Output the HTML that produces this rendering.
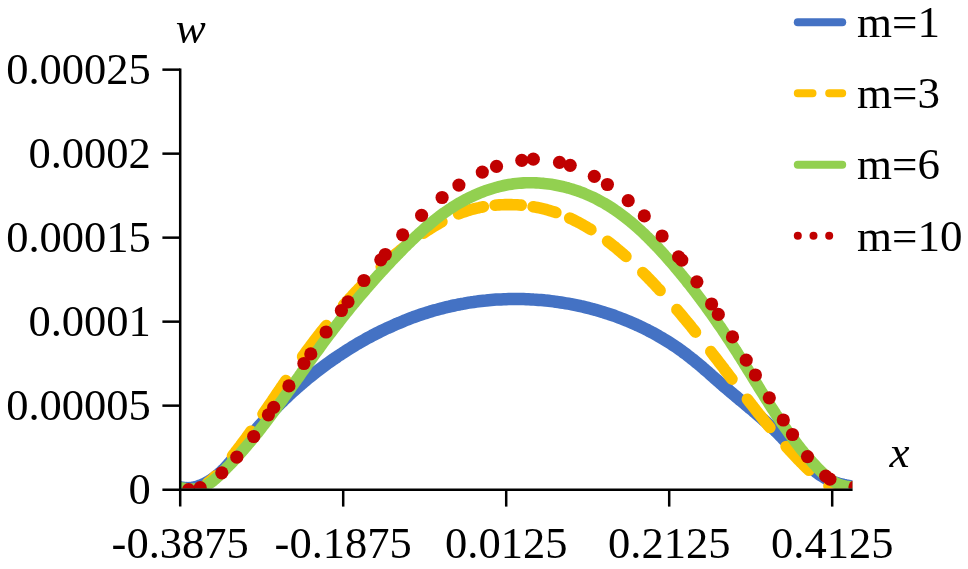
<!DOCTYPE html>
<html><head><meta charset="utf-8"><title>chart</title>
<style>html,body{margin:0;padding:0;background:#fff;}body{width:968px;height:569px;position:relative;overflow:hidden;font-family:"Liberation Serif",serif;}</style>
</head><body>
<svg width="968" height="569" viewBox="0 0 968 569" style="position:absolute;left:0;top:0">
<defs><clipPath id="pa"><rect x="180.0" y="0" width="672.4" height="488.6"/></clipPath></defs>
<g clip-path="url(#pa)" fill="none" stroke-linecap="round" stroke-linejoin="round">
<path d="M173.0,486.0 L175.5,486.3 L177.9,486.8 L180.4,487.3 L182.9,487.8 L185.3,488.1 L187.8,488.3 L190.3,488.1 L192.8,487.8 L195.3,487.2 L197.7,486.5 L200.0,485.7 L202.3,484.7 L204.6,483.7 L206.8,482.5 L209.0,481.3 L211.1,479.9 L213.2,478.5 L215.2,477.0 L217.1,475.5 L219.0,473.8 L220.9,472.2 L222.7,470.4 L224.5,468.7 L226.2,466.8 L227.9,465.0 L229.5,463.1 L231.2,461.2 L232.8,459.3 L234.3,457.3 L235.9,455.4 L237.4,453.4 L239.0,451.4 L240.5,449.4 L242.0,447.5 L243.6,445.5 L245.1,443.5 L246.6,441.5 L248.2,439.5 L249.7,437.6 L251.3,435.6 L252.9,433.7 L254.5,431.8 L256.1,429.8 L257.7,427.9 L259.3,426.0 L261.0,424.1 L262.6,422.3 L264.3,420.4 L266.0,418.5 L267.7,416.7 L269.4,414.9 L271.1,413.0 L272.8,411.2 L274.5,409.4 L276.3,407.6 L278.0,405.8 L279.8,404.0 L281.6,402.3 L283.4,400.5 L285.2,398.8 L287.0,397.1 L288.8,395.3 L290.6,393.6 L292.5,391.9 L294.3,390.3 L296.2,388.6 L298.1,386.9 L300.0,385.3 L301.9,383.6 L303.8,382.0 L305.7,380.4 L307.6,378.8 L309.5,377.2 L311.5,375.7 L313.4,374.1 L315.4,372.5 L317.4,371.0 L319.4,369.5 L321.4,368.0 L323.4,366.5 L325.4,365.0 L327.4,363.5 L329.4,362.1 L331.5,360.6 L333.5,359.2 L335.6,357.8 L337.7,356.3 L339.8,355.0 L341.9,353.6 L344.0,352.2 L346.1,350.9 L348.2,349.5 L350.3,348.2 L352.4,346.9 L354.6,345.6 L356.7,344.3 L358.9,343.0 L361.1,341.8 L363.2,340.6 L365.4,339.3 L367.6,338.1 L369.8,336.9 L372.0,335.7 L374.2,334.6 L376.5,333.4 L378.7,332.3 L380.9,331.2 L383.2,330.1 L385.4,329.0 L387.7,327.9 L390.0,326.9 L392.3,325.9 L394.6,324.8 L396.8,323.8 L399.2,322.9 L401.5,321.9 L403.8,320.9 L406.1,320.0 L408.4,319.1 L410.8,318.2 L413.1,317.3 L415.5,316.5 L417.8,315.6 L420.2,314.8 L422.6,314.0 L425.0,313.3 L427.3,312.5 L429.7,311.8 L432.1,311.0 L434.5,310.3 L436.9,309.7 L439.4,309.0 L441.8,308.4 L444.2,307.7 L446.6,307.1 L449.1,306.6 L451.5,306.0 L454.0,305.5 L456.4,305.0 L458.9,304.5 L461.3,304.0 L463.8,303.6 L466.3,303.1 L468.7,302.7 L471.2,302.3 L473.7,302.0 L476.2,301.6 L478.6,301.3 L481.1,301.0 L483.6,300.7 L486.1,300.5 L488.6,300.2 L491.1,300.0 L493.6,299.8 L496.1,299.6 L498.6,299.5 L501.1,299.4 L503.6,299.3 L506.1,299.2 L508.6,299.1 L511.1,299.0 L513.6,299.0 L516.1,299.0 L518.6,299.0 L521.1,299.1 L523.6,299.1 L526.1,299.2 L528.6,299.3 L531.1,299.4 L533.6,299.6 L536.1,299.7 L538.6,299.9 L541.1,300.1 L543.6,300.3 L546.1,300.6 L548.6,300.8 L551.1,301.1 L553.6,301.4 L556.0,301.8 L558.5,302.1 L561.0,302.5 L563.5,302.9 L565.9,303.3 L568.4,303.7 L570.9,304.1 L573.3,304.6 L575.8,305.1 L578.2,305.6 L580.7,306.2 L583.1,306.7 L585.6,307.3 L588.0,307.9 L590.4,308.5 L592.8,309.2 L595.3,309.8 L597.7,310.5 L600.1,311.2 L602.5,311.9 L604.9,312.7 L607.2,313.4 L609.6,314.2 L612.0,315.0 L614.4,315.8 L616.7,316.7 L619.1,317.6 L621.4,318.5 L623.7,319.4 L626.1,320.3 L628.4,321.2 L630.7,322.2 L633.0,323.2 L635.3,324.2 L637.5,325.3 L639.8,326.3 L642.1,327.4 L644.3,328.5 L646.6,329.6 L648.8,330.8 L651.0,331.9 L653.2,333.1 L655.4,334.3 L657.6,335.5 L659.8,336.8 L661.9,338.0 L664.1,339.3 L666.2,340.6 L668.3,341.9 L670.5,343.3 L672.6,344.7 L674.6,346.0 L676.7,347.4 L678.8,348.9 L680.8,350.3 L682.8,351.8 L684.9,353.3 L686.9,354.8 L688.8,356.3 L690.8,357.9 L692.8,359.4 L694.7,361.0 L696.6,362.6 L698.6,364.2 L700.5,365.8 L702.4,367.4 L704.3,369.1 L706.2,370.7 L708.1,372.3 L709.9,374.0 L711.8,375.7 L713.7,377.3 L715.6,379.0 L717.5,380.6 L719.3,382.3 L721.2,383.9 L723.1,385.6 L725.0,387.2 L726.9,388.8 L728.8,390.4 L730.7,392.1 L732.7,393.7 L734.6,395.3 L736.5,396.9 L738.4,398.5 L740.3,400.1 L742.3,401.7 L744.2,403.3 L746.1,404.9 L748.0,406.5 L749.9,408.1 L751.9,409.7 L753.8,411.4 L755.7,413.0 L757.6,414.6 L759.5,416.3 L761.3,417.9 L763.2,419.6 L765.1,421.2 L766.9,422.9 L768.8,424.6 L770.6,426.3 L772.5,428.0 L774.3,429.7 L776.1,431.5 L777.9,433.2 L779.6,435.0 L781.4,436.8 L783.1,438.6 L784.8,440.4 L786.5,442.3 L788.2,444.1 L789.9,446.0 L791.6,447.8 L793.3,449.7 L795.0,451.5 L796.7,453.4 L798.4,455.2 L800.1,457.0 L801.8,458.8 L803.5,460.6 L805.3,462.4 L807.1,464.1 L808.9,465.9 L810.8,467.5 L812.7,469.2 L814.6,470.7 L816.6,472.3 L818.6,473.8 L820.7,475.2 L822.8,476.5 L825.0,477.8 L827.1,479.0 L829.4,480.1 L831.7,481.2 L834.0,482.1 L836.4,482.9 L838.8,483.7 L841.2,484.3 L843.6,484.9 L846.1,485.4 L848.5,485.8 L851.0,486.3 L853.5,486.7 L855.9,487.2 L858.4,487.7 L860.8,488.2" stroke="#4472C4" stroke-width="12.5"/>
<path d="M207.6,483.0 L209.3,481.8 L210.9,480.4 L212.5,479.0 L214.0,477.5 L215.4,476.0" stroke="#FFC000" stroke-width="11.6"/>
<path d="M232.5,455.8 L233.8,454.2 L235.1,452.6 L236.3,450.9 L237.6,449.3 L238.8,447.7 L240.1,446.1 L241.3,444.4 L242.5,442.8 L243.7,441.2 L245.0,439.5 L246.2,437.9 L247.4,436.2 L248.6,434.6 L249.8,432.9 L251.0,431.2" stroke="#FFC000" stroke-width="11.6"/>
<path d="M263.0,414.1 L264.2,412.4 L265.3,410.7 L266.5,409.1 L267.6,407.4 L268.8,405.7 L269.9,404.0 L271.1,402.3 L272.2,400.7 L273.3,399.0 L274.5,397.3 L275.6,395.6 L276.8,393.9 L277.9,392.2 L279.1,390.6 L280.2,388.9 L281.3,387.2 L282.5,385.5 L283.6,383.8 L284.8,382.2 L285.9,380.5" stroke="#FFC000" stroke-width="11.6"/>
<path d="M302.6,356.6 L303.8,355.0 L305.0,353.3 L306.2,351.6 L307.4,350.0 L308.7,348.3 L309.9,346.7 L311.1,345.0 L312.3,343.4 L313.6,341.7 L314.8,340.1 L316.1,338.5 L317.3,336.8 L318.6,335.2 L319.9,333.6 L321.1,332.0 L322.4,330.4 L323.7,328.8 L325.0,327.2 L326.3,325.6" stroke="#FFC000" stroke-width="11.6"/>
<path d="M343.5,305.3 L344.9,303.8 L346.3,302.2 L347.7,300.6 L349.1,299.1 L350.5,297.5 L352.0,296.0 L353.4,294.4 L354.8,292.9 L356.3,291.4 L357.7,289.9 L359.2,288.3 L360.7,286.8 L362.1,285.3" stroke="#FFC000" stroke-width="11.6"/>
<path d="M381.2,266.8 L382.8,265.4 L384.4,264.0 L385.9,262.6 L387.5,261.2 L389.1,259.7 L390.7,258.3 L392.3,257.0 L394.0,255.6 L395.6,254.2 L397.2,252.8 L398.9,251.5 L400.5,250.1 L402.2,248.8 L403.8,247.5" stroke="#FFC000" stroke-width="11.6"/>
<path d="M423.4,233.1 L425.2,231.9 L427.0,230.7 L428.9,229.5 L430.7,228.4 L432.5,227.2 L434.4,226.1 L436.2,225.0 L438.1,223.9 L440.0,222.8 L441.9,221.7" stroke="#FFC000" stroke-width="11.6"/>
<path d="M458.6,213.9 L460.6,213.1 L462.6,212.4 L464.6,211.7 L466.7,211.0 L468.7,210.3 L470.8,209.7 L472.9,209.2 L475.0,208.6 L477.0,208.1 L479.1,207.7 L481.3,207.2 L483.4,206.8" stroke="#FFC000" stroke-width="11.6"/>
<path d="M495.1,205.2 L497.1,205.0 L499.1,204.9 L501.1,204.8 L503.1,204.7 L505.1,204.6 L507.1,204.6 L509.1,204.6 L511.2,204.6 L513.2,204.7 L515.2,204.7 L517.2,204.8 L519.2,205.0 L521.2,205.1" stroke="#FFC000" stroke-width="11.6"/>
<path d="M533.1,206.7 L535.2,207.1 L537.3,207.5 L539.4,207.9 L541.5,208.4 L543.6,208.9 L545.7,209.4 L547.7,210.0 L549.8,210.6 L551.8,211.2 L553.9,211.8 L555.9,212.5" stroke="#FFC000" stroke-width="11.6"/>
<path d="M569.7,218.1 L571.5,218.9 L573.3,219.8 L575.1,220.7 L576.9,221.6 L578.7,222.5 L580.5,223.5 L582.3,224.5 L584.0,225.5 L585.8,226.5 L587.5,227.5 L589.2,228.6 L590.9,229.6" stroke="#FFC000" stroke-width="11.6"/>
<path d="M607.6,241.3 L609.3,242.6 L611.0,243.9 L612.7,245.3 L614.4,246.6 L616.1,248.0 L617.7,249.4 L619.4,250.8 L621.0,252.2 L622.6,253.6 L624.3,255.0 L625.9,256.4" stroke="#FFC000" stroke-width="11.6"/>
<path d="M642.8,272.5 L644.3,274.0 L645.7,275.4 L647.2,276.9 L648.6,278.4 L650.1,279.9 L651.5,281.4 L653.0,282.9 L654.4,284.4 L655.8,285.9 L657.2,287.5 L658.7,289.0 L660.1,290.5" stroke="#FFC000" stroke-width="11.6"/>
<path d="M676.9,309.6 L678.3,311.2 L679.6,312.8 L681.0,314.4 L682.3,316.0 L683.6,317.6 L685.0,319.2 L686.3,320.8 L687.6,322.4 L689.0,324.0 L690.3,325.6 L691.6,327.3 L692.9,328.9 L694.2,330.5 L695.5,332.1" stroke="#FFC000" stroke-width="11.6"/>
<path d="M710.8,351.5 L712.0,353.2 L713.3,354.8 L714.5,356.4 L715.8,358.0 L717.0,359.6 L718.3,361.3 L719.5,362.9 L720.8,364.5 L722.0,366.1 L723.3,367.7 L724.5,369.4 L725.7,371.0 L727.0,372.6 L728.2,374.2 L729.5,375.9 L730.7,377.5 L731.9,379.1" stroke="#FFC000" stroke-width="11.6"/>
<path d="M747.4,399.2 L748.6,400.8 L749.8,402.4 L751.1,404.0 L752.3,405.5 L753.5,407.1 L754.8,408.7 L756.0,410.3 L757.3,411.9 L758.5,413.5 L759.8,415.0 L761.0,416.6 L762.3,418.2 L763.5,419.7 L764.8,421.3 L766.1,422.9 L767.3,424.4 L768.6,426.0 L769.9,427.5" stroke="#FFC000" stroke-width="11.6"/>
<path d="M786.1,446.5 L787.5,448.0 L788.9,449.5 L790.3,451.1 L791.7,452.6 L793.1,454.1 L794.5,455.6 L795.9,457.1 L797.3,458.6 L798.8,460.1 L800.2,461.5 L801.6,463.0 L803.1,464.5 L804.6,465.9 L806.0,467.3 L807.5,468.8 L809.0,470.2" stroke="#FFC000" stroke-width="11.6"/>
<path d="M829.0,486.0 L830.8,486.9 L832.6,487.9 L834.4,488.7 L836.3,489.5 L838.1,490.3 L840.1,491.0" stroke="#FFC000" stroke-width="11.6"/>
<path d="M173.0,486.5 L175.5,486.8 L178.0,487.2 L180.5,487.7 L182.9,488.1 L185.4,488.5 L187.9,488.8 L190.4,489.1 L192.9,489.1 L195.4,489.0 L197.9,488.6 L200.3,488.0 L202.6,487.1 L204.9,486.1 L207.1,484.9 L209.3,483.6 L211.3,482.2 L213.3,480.6 L215.2,479.0 L217.1,477.4 L218.9,475.7 L220.7,473.9 L222.5,472.2 L224.3,470.4 L226.1,468.6 L227.8,466.8 L229.6,465.0 L231.3,463.2 L233.0,461.4 L234.7,459.6 L236.4,457.7 L238.1,455.8 L239.7,454.0 L241.4,452.1 L243.1,450.2 L244.7,448.3 L246.3,446.4 L247.9,444.5 L249.6,442.6 L251.2,440.7 L252.8,438.7 L254.3,436.8 L255.9,434.8 L257.5,432.9 L259.0,430.9 L260.6,429.0 L262.1,427.0 L263.7,425.0 L265.2,423.0 L266.7,421.0 L268.2,419.0 L269.7,417.0 L271.2,415.0 L272.7,413.0 L274.2,411.0 L275.7,409.0 L277.2,407.0 L278.7,404.9 L280.1,402.9 L281.6,400.9 L283.1,398.9 L284.5,396.8 L286.0,394.8 L287.5,392.7 L288.9,390.7 L290.4,388.7 L291.8,386.6 L293.3,384.6 L294.7,382.5 L296.2,380.5 L297.6,378.4 L299.1,376.4 L300.5,374.4 L301.9,372.3 L303.4,370.3 L304.8,368.2 L306.3,366.2 L307.7,364.1 L309.2,362.1 L310.7,360.1 L312.1,358.0 L313.6,356.0 L315.0,354.0 L316.5,351.9 L318.0,349.9 L319.5,347.9 L320.9,345.9 L322.4,343.8 L323.9,341.8 L325.4,339.8 L326.9,337.8 L328.4,335.8 L329.9,333.8 L331.5,331.8 L333.0,329.8 L334.5,327.8 L336.0,325.9 L337.6,323.9 L339.1,321.9 L340.7,319.9 L342.2,318.0 L343.8,316.0 L345.3,314.0 L346.9,312.1 L348.5,310.1 L350.0,308.2 L351.6,306.2 L353.2,304.3 L354.8,302.4 L356.4,300.4 L358.0,298.5 L359.6,296.6 L361.2,294.7 L362.9,292.8 L364.5,290.9 L366.1,289.0 L367.8,287.1 L369.4,285.2 L371.1,283.3 L372.7,281.4 L374.4,279.6 L376.0,277.7 L377.7,275.8 L379.4,274.0 L381.1,272.1 L382.8,270.3 L384.5,268.4 L386.2,266.6 L387.9,264.7 L389.6,262.9 L391.3,261.1 L393.0,259.3 L394.8,257.5 L396.5,255.7 L398.3,253.9 L400.0,252.1 L401.8,250.3 L403.5,248.5 L405.3,246.7 L407.1,245.0 L408.9,243.2 L410.7,241.5 L412.5,239.7 L414.3,238.0 L416.1,236.3 L417.9,234.6 L419.8,232.9 L421.6,231.2 L423.5,229.5 L425.4,227.8 L427.2,226.2 L429.2,224.6 L431.1,223.0 L433.0,221.4 L435.0,219.8 L436.9,218.3 L438.9,216.7 L440.9,215.2 L442.9,213.7 L445.0,212.3 L447.0,210.9 L449.1,209.4 L451.2,208.1 L453.3,206.7 L455.4,205.4 L457.6,204.1 L459.7,202.8 L461.9,201.6 L464.1,200.4 L466.3,199.2 L468.6,198.1 L470.8,197.0 L473.1,195.9 L475.4,194.9 L477.7,193.9 L480.0,192.9 L482.3,192.0 L484.6,191.1 L487.0,190.3 L489.4,189.5 L491.8,188.7 L494.2,188.0 L496.6,187.3 L499.0,186.7 L501.4,186.1 L503.9,185.5 L506.3,185.0 L508.8,184.6 L511.3,184.2 L513.7,183.8 L516.2,183.5 L518.7,183.3 L521.2,183.1 L523.7,182.9 L526.2,182.8 L528.7,182.7 L531.2,182.7 L533.7,182.8 L536.2,182.9 L538.7,183.0 L541.2,183.2 L543.7,183.4 L546.2,183.7 L548.7,184.0 L551.2,184.3 L553.7,184.7 L556.1,185.2 L558.6,185.7 L561.0,186.2 L563.5,186.7 L565.9,187.4 L568.3,188.0 L570.7,188.7 L573.1,189.4 L575.5,190.2 L577.9,191.0 L580.2,191.9 L582.6,192.8 L584.9,193.7 L587.2,194.7 L589.5,195.7 L591.8,196.7 L594.1,197.8 L596.3,198.9 L598.5,200.1 L600.7,201.3 L602.9,202.5 L605.1,203.7 L607.2,205.0 L609.4,206.3 L611.5,207.7 L613.6,209.1 L615.6,210.5 L617.7,211.9 L619.7,213.4 L621.7,214.9 L623.7,216.4 L625.7,217.9 L627.7,219.5 L629.6,221.0 L631.6,222.6 L633.5,224.3 L635.4,225.9 L637.2,227.5 L639.1,229.2 L641.0,230.9 L642.8,232.6 L644.6,234.3 L646.4,236.1 L648.2,237.8 L650.0,239.6 L651.7,241.4 L653.5,243.2 L655.2,245.0 L657.0,246.8 L658.7,248.6 L660.4,250.5 L662.1,252.3 L663.8,254.2 L665.4,256.0 L667.1,257.9 L668.8,259.8 L670.4,261.7 L672.0,263.5 L673.7,265.4 L675.3,267.4 L676.9,269.3 L678.5,271.2 L680.1,273.1 L681.7,275.1 L683.3,277.0 L684.9,278.9 L686.5,280.9 L688.0,282.9 L689.6,284.8 L691.1,286.8 L692.7,288.8 L694.2,290.8 L695.7,292.7 L697.2,294.7 L698.7,296.7 L700.2,298.7 L701.7,300.8 L703.2,302.8 L704.7,304.8 L706.2,306.8 L707.6,308.8 L709.1,310.9 L710.6,312.9 L712.0,315.0 L713.4,317.0 L714.9,319.1 L716.3,321.1 L717.7,323.2 L719.1,325.3 L720.6,327.3 L722.0,329.4 L723.4,331.5 L724.8,333.6 L726.1,335.6 L727.5,337.7 L728.9,339.8 L730.3,341.9 L731.6,344.0 L733.0,346.1 L734.4,348.2 L735.7,350.3 L737.1,352.4 L738.4,354.6 L739.8,356.7 L741.1,358.8 L742.4,360.9 L743.8,363.0 L745.1,365.2 L746.4,367.3 L747.7,369.4 L749.0,371.5 L750.4,373.7 L751.7,375.8 L753.0,377.9 L754.3,380.1 L755.6,382.2 L757.0,384.3 L758.3,386.5 L759.6,388.6 L760.9,390.7 L762.2,392.8 L763.6,395.0 L764.9,397.1 L766.2,399.2 L767.6,401.3 L768.9,403.4 L770.3,405.6 L771.6,407.7 L773.0,409.8 L774.4,411.9 L775.7,414.0 L777.1,416.0 L778.5,418.1 L779.9,420.2 L781.3,422.3 L782.7,424.3 L784.2,426.4 L785.6,428.4 L787.1,430.5 L788.5,432.5 L790.0,434.6 L791.5,436.6 L793.0,438.6 L794.5,440.6 L796.0,442.6 L797.5,444.6 L799.1,446.5 L800.6,448.5 L802.2,450.4 L803.8,452.4 L805.4,454.3 L807.0,456.2 L808.7,458.1 L810.3,460.0 L812.0,461.9 L813.7,463.7 L815.4,465.5 L817.1,467.4 L818.8,469.2 L820.6,471.0 L822.4,472.7 L824.2,474.4 L826.1,476.1 L828.0,477.7 L830.0,479.2 L832.0,480.6 L834.2,482.0 L836.4,483.1 L838.7,484.2 L841.0,485.0 L843.4,485.7 L845.9,486.2 L848.4,486.6 L850.8,486.9 L853.3,487.2 L855.8,487.4 L858.3,487.7 L860.8,488.0" stroke="#92D050" stroke-width="11.6"/>
<g fill="#C00000" stroke="none">
<circle cx="188.6" cy="489.6" r="6.6"/>
<circle cx="200.2" cy="487.7" r="6.6"/>
<circle cx="221.8" cy="472.8" r="6.6"/>
<circle cx="236.8" cy="457.2" r="6.6"/>
<circle cx="253.7" cy="436.5" r="6.6"/>
<circle cx="268.4" cy="414.8" r="6.6"/>
<circle cx="273.7" cy="407.4" r="6.6"/>
<circle cx="288.9" cy="385.9" r="6.6"/>
<circle cx="303.9" cy="363.5" r="6.6"/>
<circle cx="310.8" cy="353.9" r="6.6"/>
<circle cx="326.1" cy="332.0" r="6.6"/>
<circle cx="341.4" cy="310.5" r="6.6"/>
<circle cx="348.0" cy="301.8" r="6.6"/>
<circle cx="363.9" cy="280.5" r="6.6"/>
<circle cx="380.8" cy="259.8" r="6.6"/>
<circle cx="385.3" cy="254.5" r="6.6"/>
<circle cx="402.7" cy="234.8" r="6.6"/>
<circle cx="421.6" cy="215.3" r="6.6"/>
<circle cx="442.1" cy="197.5" r="6.6"/>
<circle cx="458.9" cy="185.1" r="6.6"/>
<circle cx="482.3" cy="172.1" r="6.6"/>
<circle cx="496.5" cy="166.4" r="6.6"/>
<circle cx="521.8" cy="160.4" r="6.6"/>
<circle cx="533.3" cy="159.2" r="6.6"/>
<circle cx="559.5" cy="162.4" r="6.6"/>
<circle cx="570.2" cy="165.3" r="6.6"/>
<circle cx="594.3" cy="176.3" r="6.6"/>
<circle cx="607.4" cy="184.5" r="6.6"/>
<circle cx="628.2" cy="200.7" r="6.6"/>
<circle cx="644.3" cy="215.9" r="6.6"/>
<circle cx="662.1" cy="236.0" r="6.6"/>
<circle cx="678.6" cy="256.9" r="6.6"/>
<circle cx="681.8" cy="260.1" r="6.6"/>
<circle cx="696.9" cy="281.8" r="6.6"/>
<circle cx="711.6" cy="304.0" r="6.6"/>
<circle cx="718.3" cy="314.4" r="6.6"/>
<circle cx="732.5" cy="336.9" r="6.6"/>
<circle cx="746.2" cy="360.1" r="6.6"/>
<circle cx="755.4" cy="375.0" r="6.6"/>
<circle cx="769.3" cy="397.8" r="6.6"/>
<circle cx="783.3" cy="420.0" r="6.6"/>
<circle cx="792.5" cy="434.5" r="6.6"/>
<circle cx="807.5" cy="456.6" r="6.6"/>
<circle cx="825.7" cy="476.2" r="6.6"/>
<circle cx="829.9" cy="479.2" r="6.6"/>
<circle cx="855.0" cy="486.9" r="6.6"/>
</g></g>
<g stroke="#000" stroke-width="2.5" fill="none">
<path d="M180.2,68.4 V506.6"/>
<path d="M162.4,489.65 H852.6"/>
<path d="M162.4,405.65 H180.2"/>
<path d="M162.4,321.65 H180.2"/>
<path d="M162.4,237.65 H180.2"/>
<path d="M162.4,153.65 H180.2"/>
<path d="M162.4,69.65 H180.2"/>
<path d="M343.2,489.65 V506.6"/>
<path d="M506.2,489.65 V506.6"/>
<path d="M669.2,489.65 V506.6"/>
<path d="M832.2,489.65 V506.6"/>
</g>
<g fill="none" stroke-linecap="round" stroke-width="8">
<path d="M797.8,22.2 H842.2" stroke="#4472C4"/>
<path d="M797.8,93.2 H812.5 M829.2,93.2 H842.2" stroke="#FFC000"/>
<path d="M797.8,164.8 H842.2" stroke="#92D050"/>
</g>
<g fill="#C00000"><circle cx="797.8" cy="235.8" r="4"/><circle cx="813.5" cy="235.8" r="4"/><circle cx="829.2" cy="235.8" r="4"/></g>
<g font-family="'Liberation Serif', serif" font-size="44.5" fill="#000">
<text x="150.8" y="503.8" text-anchor="end">0</text>
<text x="150.8" y="419.8" text-anchor="end">0.00005</text>
<text x="150.8" y="335.8" text-anchor="end">0.0001</text>
<text x="150.8" y="251.7" text-anchor="end">0.00015</text>
<text x="150.8" y="167.7" text-anchor="end">0.0002</text>
<text x="150.8" y="83.7" text-anchor="end">0.00025</text>
<text x="180.2" y="558.3" text-anchor="middle">-0.3875</text>
<text x="343.2" y="558.3" text-anchor="middle">-0.1875</text>
<text x="506.2" y="558.3" text-anchor="middle">0.0125</text>
<text x="669.2" y="558.3" text-anchor="middle">0.2125</text>
<text x="832.2" y="558.3" text-anchor="middle">0.4125</text>
<text x="857" y="36.7" font-size="45">m=1</text>
<text x="857" y="108.0" font-size="45">m=3</text>
<text x="857" y="179.3" font-size="45">m=6</text>
<text x="857" y="250.6" font-size="45">m=10</text>
<text x="175.8" y="43.3" font-size="45" font-style="italic">w</text>
<text x="889.5" y="467.4" font-size="45" font-style="italic">x</text>
</g>
</svg>
</body></html>
